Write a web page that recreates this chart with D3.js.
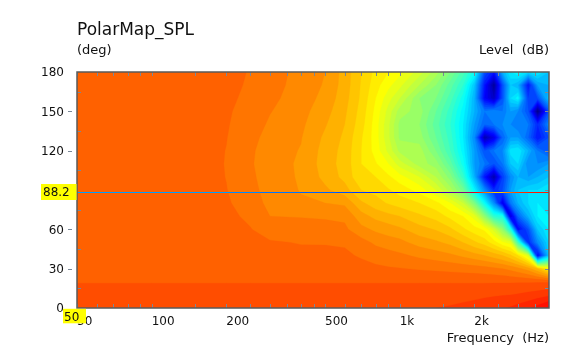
<!DOCTYPE html>
<html><head><meta charset="utf-8">
<script src="https://cdn.jsdelivr.net/npm/d3@7"></script>
<style>
html,body{margin:0;padding:0;background:#fff;}
svg{display:block;font-family:"DejaVu Sans",Verdana,sans-serif;}
</style></head>
<body>
<svg id="chart" width="584" height="351"></svg>
<script>
// ---------------- data ----------------
const title = "PolarMap_SPL";
const yUnit = "(deg)";
const levelUnit = "Level  (dB)";
const xUnit = "Frequency  (Hz)";

const frequencies = [50,100,150,200,250,300,400,500,600,700,800,900,1000,1200,1400,1600,1800,2000,2200,2400,2600,2800,3000,3300,3600,4000];
const angles = [0,10,20,30,40,50,60,70,80,90,100,110,120,130,140,150,160,170,180];
// level (dB) per angle row, one value per frequency
const levels = [
 [0.8,0.8,0.8,0.8,0.8,0.8,0.8,0.8,0.8,0.8,0.8,0.8,0.8,0.9,1.0,1.05,1.15,1.3,1.5,1.7,1.9,2.1,2.4,2.8,3.4,4.3],
 [0.8,0.8,0.8,0.8,0.8,0.8,0.8,0.8,0.8,0.8,0.8,0.8,0.8,0.8,0.8,0.8,0.8,0.8,0.85,0.9,0.95,1.0,1.1,1.3,1.5,1.8],
 [-0.1,-0.1,-0.1,-0.1,-0.1,-0.1,-0.1,-0.1,-0.1,-0.1,-0.1,-0.1,-0.1,-0.1,-0.1,-0.1,-0.1,-0.1,-0.1,-0.1,-0.1,-0.1,-0.1,-0.1,-0.1,-0.1],
 [-0.5,-0.5,-0.5,-0.5,-0.5,-0.5,-0.55,-0.55,-0.6,-0.7,-0.8,-0.9,-0.95,-1.1,-1.2,-1.3,-1.4,-1.5,-1.6,-1.8,-2.0,-2.3,-2.7,-3.5,-5.0,-8.0],
 [-0.5,-0.5,-0.5,-0.5,-0.55,-0.65,-0.75,-0.8,-0.85,-1.1,-1.4,-1.6,-1.8,-2.2,-2.5,-2.8,-3.2,-3.6,-4.0,-4.5,-5.0,-5.8,-7.0,-10.0,-34.0,-24.0],
 [-0.5,-0.5,-0.5,-0.55,-0.7,-0.9,-1.05,-1.05,-1.1,-1.6,-2.2,-2.5,-2.7,-3.4,-3.8,-4.3,-5.0,-5.8,-6.5,-7.5,-8.8,-9.5,-18.0,-32.0,-27.0,-23.0],
 [-0.5,-0.5,-0.5,-0.65,-0.95,-1.5,-1.6,-1.7,-1.8,-2.7,-3.2,-3.5,-3.8,-4.6,-5.1,-5.8,-6.8,-7.6,-8.2,-10.5,-14.0,-20.0,-34.0,-30.0,-24.0,-22.0],
 [-0.5,-0.5,-0.5,-0.75,-1.2,-2.0,-2.05,-2.1,-2.2,-3.6,-4.3,-4.7,-5.0,-5.8,-6.4,-7.3,-8.0,-9.5,-14.0,-19.0,-20.0,-36.0,-29.0,-25.0,-22.0,-22.0],
 [-0.5,-0.5,-0.5,-0.88,-1.45,-2.3,-2.9,-3.0,-3.2,-4.8,-5.6,-6.1,-6.5,-7.0,-7.7,-9.0,-11.0,-15.0,-21.0,-27.0,-35.0,-28.0,-25.0,-23.0,-22.0,-23.0],
 [-0.5,-0.5,-0.55,-0.97,-1.6,-2.5,-3.05,-3.8,-4.6,-6.0,-6.3,-6.9,-7.4,-8.4,-10.0,-12.5,-15.5,-21.5,-27.0,-32.0,-30.0,-26.0,-24.0,-23.0,-23.0,-22.0],
 [-0.5,-0.5,-0.55,-1.02,-1.75,-2.6,-3.1,-4.3,-5.3,-6.8,-7.0,-7.8,-8.6,-10.0,-12.0,-14.5,-18.5,-25.0,-33.0,-38.0,-31.0,-27.0,-25.0,-26.0,-25.0,-24.0],
 [-0.5,-0.5,-0.55,-1.04,-1.85,-2.7,-3.1,-4.5,-5.4,-7.0,-7.9,-9.0,-10.5,-12.5,-13.5,-16.5,-20.5,-26.0,-28.0,-30.0,-28.0,-24.0,-23.0,-27.0,-27.0,-26.0],
 [-0.5,-0.5,-0.55,-1.02,-1.8,-2.6,-3.05,-4.4,-5.35,-7.0,-8.4,-10.3,-12.3,-12.5,-15.0,-18.0,-21.5,-26.0,-30.0,-28.0,-27.0,-22.5,-22.0,-25.0,-28.0,-30.0],
 [-0.5,-0.5,-0.55,-0.97,-1.65,-2.4,-2.95,-4.2,-5.2,-6.9,-8.5,-10.8,-13.2,-13.5,-16.0,-18.5,-22.0,-27.0,-38.0,-35.0,-29.0,-26.0,-26.0,-29.0,-33.0,-30.0],
 [-0.5,-0.5,-0.5,-0.92,-1.5,-2.15,-2.8,-3.9,-5.0,-6.6,-8.5,-10.8,-13.3,-14.0,-16.5,-19.0,-22.0,-26.0,-29.0,-28.0,-27.0,-27.0,-28.0,-28.0,-32.0,-27.0],
 [-0.5,-0.5,-0.5,-0.88,-1.35,-1.95,-2.65,-3.6,-4.8,-6.4,-8.3,-10.4,-12.5,-13.5,-16.0,-18.5,-21.5,-25.0,-28.0,-27.0,-28.0,-26.0,-27.0,-30.0,-40.0,-30.0],
 [-0.5,-0.5,-0.5,-0.82,-1.2,-1.75,-2.5,-3.3,-4.6,-6.2,-8.0,-9.6,-11.0,-14.0,-15.0,-17.5,-20.5,-25.0,-34.0,-37.0,-30.0,-23.0,-21.5,-31.0,-30.0,-24.0],
 [-0.5,-0.5,-0.5,-0.78,-1.1,-1.6,-2.4,-3.1,-4.45,-6.1,-7.6,-8.7,-9.7,-12.0,-14.0,-16.5,-19.0,-24.0,-33.0,-39.0,-30.0,-24.0,-25.0,-33.0,-26.0,-25.0],
 [-0.5,-0.5,-0.5,-0.75,-1.05,-1.5,-2.35,-3.0,-4.4,-6.0,-7.3,-8.0,-8.7,-10.5,-12.5,-15.0,-17.5,-20.5,-30.0,-33.0,-25.0,-22.0,-21.0,-23.0,-22.0,-24.0]
];

const freqMajorTicks = [50,100,200,500,1000,2000];
const freqTickLabels = ["50","100","200","500","1k","2k"];
const freqMinorTicks = [60,70,80,90,150,250,300,350,400,450,600,700,800,900,1500,2500,3000,3500];
const angleLabelTicks = [0,30,60,90,120,150,180];
const angleMinorTicks = [15,45,75,105,135,165];
const cursorAngle = 88.2;
const cursorFreq = 50;
const levelRange = [-40.3, 10.7];
const bandStep = 1;

// ---------------- layout ----------------
const plot = {left: 77, right: 549, top: 72, bottom: 308};
const svg = d3.select("#chart");

const x = d3.scaleLog().domain([50, 4000]).range([plot.left, plot.right]);
const y = d3.scaleLinear().domain([0, 180]).range([plot.bottom, plot.top]);

// jet colour map
const jetStops = ["#00007f","#0000ff","#00ffff","#ffff00","#ff0000","#7f0000"];
const jetPos = [0, 0.125, 0.375, 0.625, 0.875, 1];
const color = d3.scaleLinear()
  .domain(jetPos.map(p => levelRange[0] + p * (levelRange[1] - levelRange[0])))
  .range(jetStops).interpolate(d3.interpolateRgb).clamp(true);

// ---------------- contours ----------------
const n = frequencies.length, m = angles.length;
const values = levels.flat();
const thresholds = d3.range(-42, 6, bandStep);
const contours = d3.contours().size([n, m]).thresholds(thresholds)(values);

function gridToX(gx) {
  const g = Math.max(0, Math.min(n - 1, gx - 0.5));
  const i = Math.min(n - 2, Math.floor(g));
  const t = g - i;
  const lf = Math.log(frequencies[i]) + t * (Math.log(frequencies[i + 1]) - Math.log(frequencies[i]));
  return x(Math.exp(lf));
}
function gridToY(gy) {
  const g = Math.max(0, Math.min(m - 1, gy - 0.5));
  const j = Math.min(m - 2, Math.floor(g));
  const t = g - j;
  return y(angles[j] + t * (angles[j + 1] - angles[j]));
}
const proj = d3.geoTransform({ point(px, py) { this.stream.point(gridToX(px), gridToY(py)); } });
const path = d3.geoPath(proj);

svg.append("defs").append("clipPath").attr("id", "clip")
  .append("rect").attr("x", plot.left).attr("y", plot.top)
  .attr("width", plot.right - plot.left).attr("height", plot.bottom - plot.top);

const map = svg.append("g").attr("clip-path", "url(#clip)");
map.selectAll("path").data(contours).join("path")
  .attr("d", path)
  .attr("fill", d => color(d.value + bandStep / 2))
  .attr("stroke", d => color(d.value + bandStep / 2))
  .attr("stroke-width", 0.3);

// cursor line (inverted colours)
const cy = Math.round(y(cursorAngle)) + 0.5;
svg.append("line")
  .attr("x1", plot.left).attr("x2", plot.right).attr("y1", cy).attr("y2", cy)
  .attr("stroke", "#ffffff").attr("stroke-width", 1.2)
  .style("mix-blend-mode", "difference");

// ---------------- axes ----------------
const tickColor = "#7a8898";
const tickLen = 4;
const g = svg.append("g");
const allFreqTicks = freqMajorTicks.concat(freqMinorTicks);
allFreqTicks.forEach(f => {
  const xx = Math.round(x(f)) + 0.5;
  g.append("line").attr("x1", xx).attr("x2", xx).attr("y1", plot.top).attr("y2", plot.top + tickLen).attr("stroke", tickColor);
  g.append("line").attr("x1", xx).attr("x2", xx).attr("y1", plot.bottom).attr("y2", plot.bottom - tickLen).attr("stroke", tickColor);
});
angleMinorTicks.concat(angleLabelTicks.slice(1, -1)).forEach(a => {
  const yy = Math.round(y(a)) + 0.5;
  g.append("line").attr("x1", plot.right).attr("x2", plot.right - tickLen).attr("y1", yy).attr("y2", yy).attr("stroke", tickColor);
});
angleMinorTicks.forEach(a => {
  const yy = Math.round(y(a)) + 0.5;
  g.append("line").attr("x1", plot.left).attr("x2", plot.left + tickLen).attr("y1", yy).attr("y2", yy).attr("stroke", tickColor);
});
angleLabelTicks.slice(1, -1).forEach(a => {
  const yy = Math.round(y(a)) + 0.5;
  g.append("line").attr("x1", plot.left - 9).attr("x2", plot.left - 5).attr("y1", yy).attr("y2", yy).attr("stroke", tickColor);
});

// frame
svg.append("rect").attr("x", plot.left).attr("y", plot.top)
  .attr("width", plot.right - plot.left).attr("height", plot.bottom - plot.top)
  .attr("fill", "none").attr("stroke", "#5a5a5a").attr("stroke-width", 1.5);

// tick labels
const txt = "#111";
freqMajorTicks.forEach((f, i) => {
  svg.append("text").attr("x", x(f)).attr("y", 324.5).attr("font-size", 12).attr("fill", txt)
    .text(freqTickLabels[i]);
});
angleLabelTicks.forEach(a => {
  svg.append("text").attr("x", 64).attr("y", y(a) + 4.3).attr("font-size", 12)
    .attr("text-anchor", "end").attr("fill", txt).text(a);
});

// titles
svg.append("text").attr("x", plot.left).attr("y", 35).attr("font-size", 17).attr("fill", txt).text(title);
svg.append("text").attr("x", plot.left).attr("y", 54).attr("font-size", 13).attr("fill", txt).text(yUnit);
svg.append("text").attr("x", plot.right).attr("y", 54).attr("font-size", 13).attr("fill", txt)
  .attr("text-anchor", "end").style("white-space", "pre").text(levelUnit);
svg.append("text").attr("x", plot.right).attr("y", 342).attr("font-size", 13).attr("fill", txt)
  .attr("text-anchor", "end").style("white-space", "pre").text(xUnit);

// cursor value boxes
const yb = Math.round(y(cursorAngle));
svg.append("rect").attr("x", 41).attr("y", yb - 8).attr("width", 35.5).attr("height", 16).attr("fill", "#ffff00");
svg.append("text").attr("x", 43).attr("y", yb + 4.3).attr("font-size", 12).attr("fill", txt).text(cursorAngle.toFixed(1));
const xb = x(cursorFreq);
svg.append("rect").attr("x", xb - 14).attr("y", plot.bottom + 0.8).attr("width", 23).attr("height", 14.5).attr("fill", "#ffff00");
svg.append("text").attr("x", xb - 13).attr("y", 320.5).attr("font-size", 12).attr("fill", txt).text(String(cursorFreq));
</script>
</body></html>
